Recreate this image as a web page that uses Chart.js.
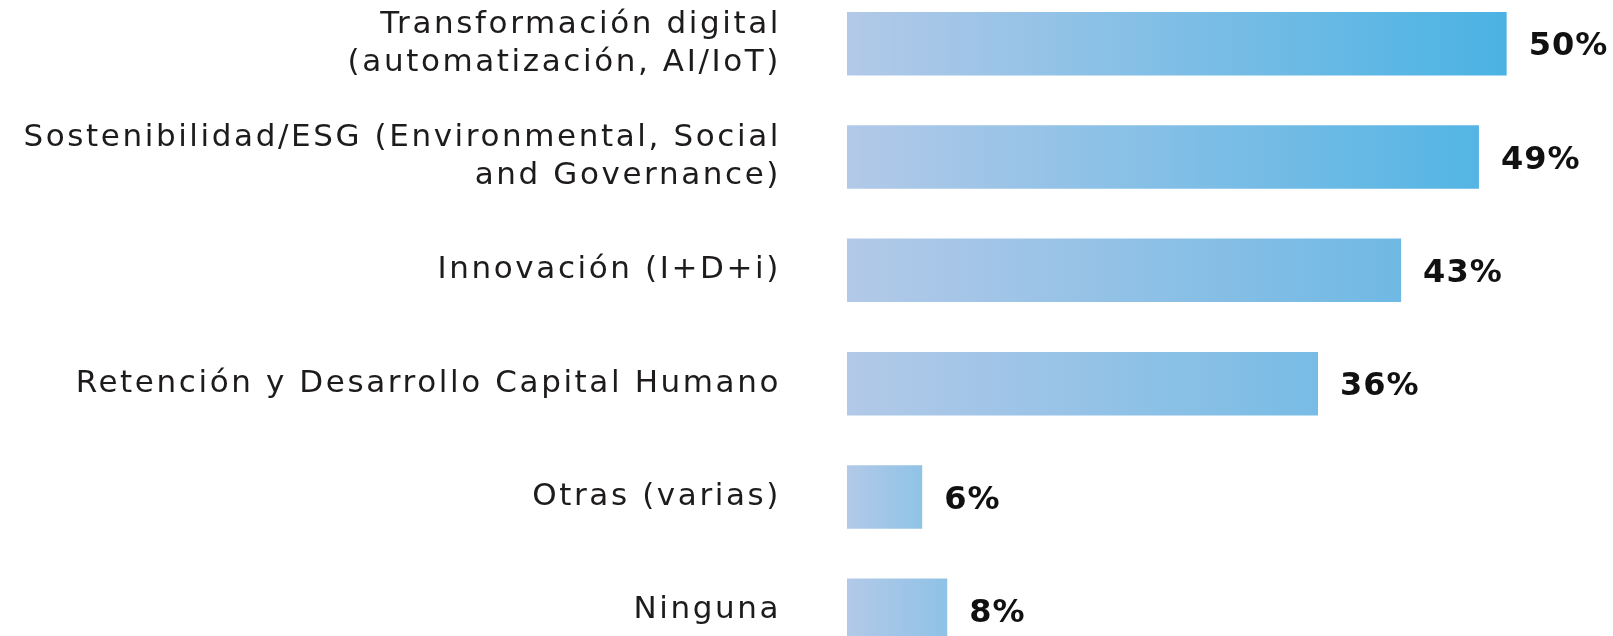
<!DOCTYPE html>
<html>
<head>
<meta charset="utf-8">
<script src="https://cdn.jsdelivr.net/npm/chart.js@4/dist/chart.umd.min.js"></script>
<style>
  html, body { margin: 0; padding: 0; background: #ffffff; overflow: hidden; }
  body { width: 1613px; height: 636px; position: relative; }
  #c { position: absolute; left: 0; top: -13px; }
</style>
</head>
<body>
<canvas id="c" width="1613" height="680"></canvas>
<script>
const categories = [
  ["Transformación digital", "(automatización, AI/IoT)"],
  ["Sostenibilidad/ESG (Environmental, Social", "and Governance)"],
  "Innovación (I+D+i)",
  "Retención y Desarrollo Capital Humano",
  "Otras (varias)",
  "Ninguna"
];
const values = [50, 47.9, 42.0, 35.7, 5.7, 7.6];
const valueLabels = ["50%", "49%", "43%", "36%", "6%", "8%"];

// gradient end colours keyed by bar value (style only)
const gradStart = [179, 201, 232];
const endStops = [
  { v: 5, c: [144, 195, 230] },
  { v: 36, c: [120, 188, 229] },
  { v: 42, c: [111, 185, 228] },
  { v: 48, c: [84, 181, 228] },
  { v: 50, c: [74, 179, 227] }
];
function endColor(v) {
  if (v <= endStops[0].v) return endStops[0].c;
  for (let i = 1; i < endStops.length; i++) {
    const a = endStops[i - 1], b = endStops[i];
    if (v <= b.v) {
      const t = (v - a.v) / (b.v - a.v);
      return a.c.map((x, k) => Math.round(x + (b.c[k] - x) * t));
    }
  }
  return endStops[endStops.length - 1].c;
}
const rgb = c => `rgb(${c[0]},${c[1]},${c[2]})`;

const valueLabelPlugin = {
  id: 'valueLabels',
  beforeDraw(chart) {
    chart.ctx.letterSpacing = '2.6px';
  },
  afterDatasetsDraw(chart) {
    const ctx = chart.ctx;
    const meta = chart.getDatasetMeta(0);
    ctx.save();
    ctx.letterSpacing = '1px';
    ctx.font = 'bold 32px "DejaVu Sans"';
    ctx.fillStyle = '#111111';
    ctx.textAlign = 'left';
    ctx.textBaseline = 'alphabetic';
    meta.data.forEach((bar, i) => {
      ctx.fillText(valueLabels[i], bar.x + 22, bar.y + 11.7);
    });
    ctx.restore();
  }
};

new Chart(document.getElementById('c'), {
  type: 'bar',
  data: {
    labels: categories,
    datasets: [{
      data: values,
      backgroundColor: (ctx) => {
        const chart = ctx.chart;
        const xs = chart.scales.x;
        if (!xs || ctx.type !== 'data') return rgb(gradStart);
        const v = ctx.raw;
        const x0 = xs.getPixelForValue(0);
        const x1 = xs.getPixelForValue(v);
        if (!isFinite(x0) || !isFinite(x1) || x1 <= x0) return rgb(gradStart);
        const g = chart.ctx.createLinearGradient(x0, 0, x1, 0);
        g.addColorStop(0, rgb(gradStart));
        g.addColorStop(1, rgb(endColor(v)));
        return g;
      },
      borderWidth: 0,
      barPercentage: 0.56,
      categoryPercentage: 1.0
    }]
  },
  options: {
    indexAxis: 'y',
    responsive: false,
    animation: false,
    devicePixelRatio: 1,
    layout: { padding: 0 },
    plugins: {
      legend: { display: false },
      tooltip: { enabled: false },
      title: { display: false }
    },
    scales: {
      x: {
        display: false,
        min: 0,
        max: 58.06
      },
      y: {
        afterFit(scale) {
          scale.width = 847;
          scale.paddingTop = 0;
          scale.paddingBottom = 0;
          scale.paddingLeft = 0;
          scale.paddingRight = 0;
        },
        grid: { display: false, drawTicks: false },
        border: { display: false },
        ticks: {
          padding: 66,
          color: '#1e1b1c',
          font: { family: '"DejaVu Sans"', size: 31, lineHeight: 1.23 }
        }
      }
    }
  },
  plugins: [valueLabelPlugin]
});
</script>
</body>
</html>
